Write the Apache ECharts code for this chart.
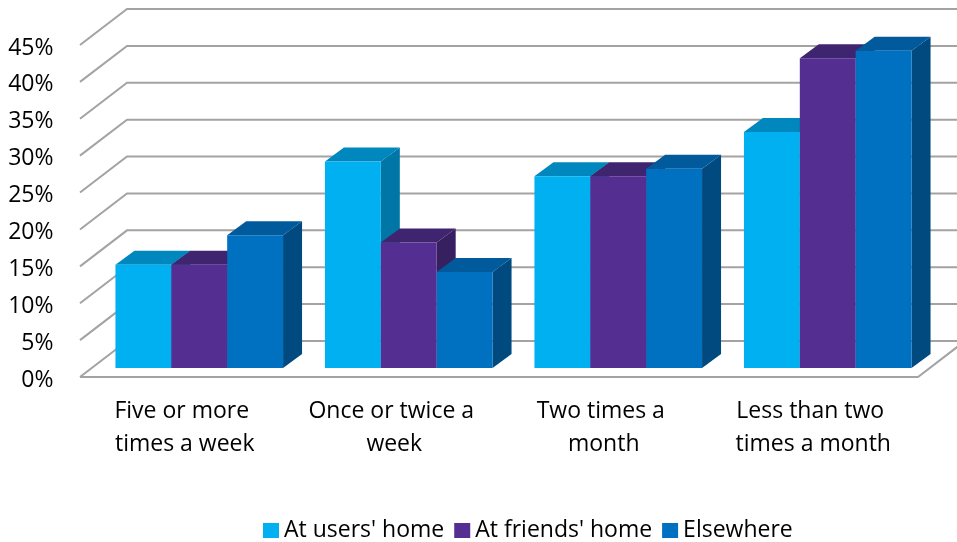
<!DOCTYPE html>
<html>
<head>
<meta charset="utf-8">
<script src="https://cdn.jsdelivr.net/npm/echarts@6/dist/echarts.min.js"></script>
<style>
  html, body { margin: 0; padding: 0; background: #fff; }
  #chart { width: 957px; height: 542px; }
</style>
</head>
<body>
<div id="chart"></div>
<script>
// ---- data ----
const categories = ['Five or more times a week', 'Once or twice a week', 'Two times a month', 'Less than two times a month'];
const seriesNames = ["At users' home", "At friends' home", 'Elsewhere'];
const usersHome = [14, 28, 26, 32];
const friendsHome = [14, 17, 26, 42];
const elsewhere = [18, 13, 27, 43];
const yTicks = [0, 5, 10, 15, 20, 25, 30, 35, 40, 45];

// ---- style ----
const FONT = 'Open Sans';
const faceColors = [
  { front: '#00B0F0', top: '#0087BD', side: '#0076A6' },
  { front: '#542E91', top: '#3F2470', side: '#37205F' },
  { front: '#0070C0', top: '#005A9B', side: '#004A7F' }
];
const BAR_DX = 19, BAR_DY = -14;      // bar depth
const FRONT_DX = -14.5, FRONT_DY = 9; // floor/wall front edge relative to bar plane
const BACK_DX = 32.5, BACK_DY = -27;  // back wall relative to bar plane
const GRID_COLOR = '#A3A3A3';

function gridRender(params, api) {
  const cs = params.coordSys;
  const v = api.value(1);
  const y = api.coord([0, v])[1];
  const xl = cs.x, xr = cs.x + cs.width;
  const style = { stroke: GRID_COLOR, lineWidth: 2, fill: null };
  const children = [{
    type: 'polyline',
    shape: { points: [[xl + FRONT_DX, y + FRONT_DY], [xl + BACK_DX, y + BACK_DY], [xr + BACK_DX, y + BACK_DY]] },
    style: style
  }];
  if (v === 0) {
    children.push({
      type: 'polyline',
      shape: { points: [[xl + FRONT_DX, y + FRONT_DY], [xr + FRONT_DX, y + FRONT_DY], [xr + BACK_DX, y + BACK_DY]] },
      style: style
    });
  }
  return { type: 'group', children: children };
}

function barRender(si) {
  return function (params, api) {
    const cat = api.value(0), val = api.value(1);
    const base = api.coord([cat, 0]);
    const top = api.coord([cat, val]);
    const band = api.size([1, 0])[0];
    const bw = band * 0.8 / 3;
    const x0 = base[0] - band * 0.4 + si * bw;
    const x1 = x0 + bw;
    const yb = base[1], yt = top[1];
    const c = faceColors[si];
    return {
      type: 'group',
      children: [
        { type: 'polygon', shape: { points: [[x1, yt], [x1 + BAR_DX, yt + BAR_DY], [x1 + BAR_DX, yb + BAR_DY], [x1, yb]] }, style: { fill: c.side } },
        { type: 'polygon', shape: { points: [[x0, yt], [x1, yt], [x1 + BAR_DX, yt + BAR_DY], [x0 + BAR_DX, yt + BAR_DY]] }, style: { fill: c.top } },
        { type: 'rect', shape: { x: x0, y: yt, width: bw, height: yb - yt }, style: { fill: c.front } }
      ]
    };
  };
}

const valueSets = [usersHome, friendsHome, elsewhere];
const barSeries = valueSets.map(function (vals, si) {
  return {
    name: seriesNames[si],
    type: 'custom',
    renderItem: barRender(si),
    itemStyle: { color: faceColors[si].front },
    encode: { x: 0, y: 1 },
    data: vals.map(function (v, i) { return [i, v]; }),
    z: 3 + si
  };
});

const chart = echarts.init(document.getElementById('chart'));
chart.setOption({
  animation: false,
  backgroundColor: '#fff',
  grid: { left: 94.5, right: 24.5, top: 36, bottom: 174 },
  xAxis: {
    type: 'category',
    data: categories,
    axisLine: { show: false },
    axisTick: { show: false },
    splitLine: { show: false },
    axisLabel: {
      interval: 0,
      margin: 27,
      fontFamily: FONT,
      fontSize: 23,
      lineHeight: 33,
      color: '#000',
      width: 180,
      overflow: 'break',
      padding: [0, 29, 0, 0]
    }
  },
  yAxis: {
    type: 'value',
    min: 0,
    max: 45,
    interval: 5,
    axisLine: { show: false },
    axisTick: { show: false },
    splitLine: { show: false },
    axisLabel: {
      formatter: '{value}%',
      margin: 41,
      fontFamily: FONT,
      fontSize: 23,
      color: '#000',
      verticalAlign: 'top',
      lineHeight: 24
    }
  },
  legend: {
    data: seriesNames,
    left: 258,
    top: 514,
    icon: 'rect',
    itemWidth: 16,
    itemHeight: 15,
    itemGap: 10,
    textStyle: { fontFamily: FONT, fontSize: 23, color: '#000' }
  },
  series: [{
    type: 'custom',
    renderItem: gridRender,
    encode: { x: 0, y: 1 },
    data: yTicks.map(function (t) { return [0, t]; }),
    silent: true,
    z: 1
  }].concat(barSeries)
});
</script>
</body>
</html>
